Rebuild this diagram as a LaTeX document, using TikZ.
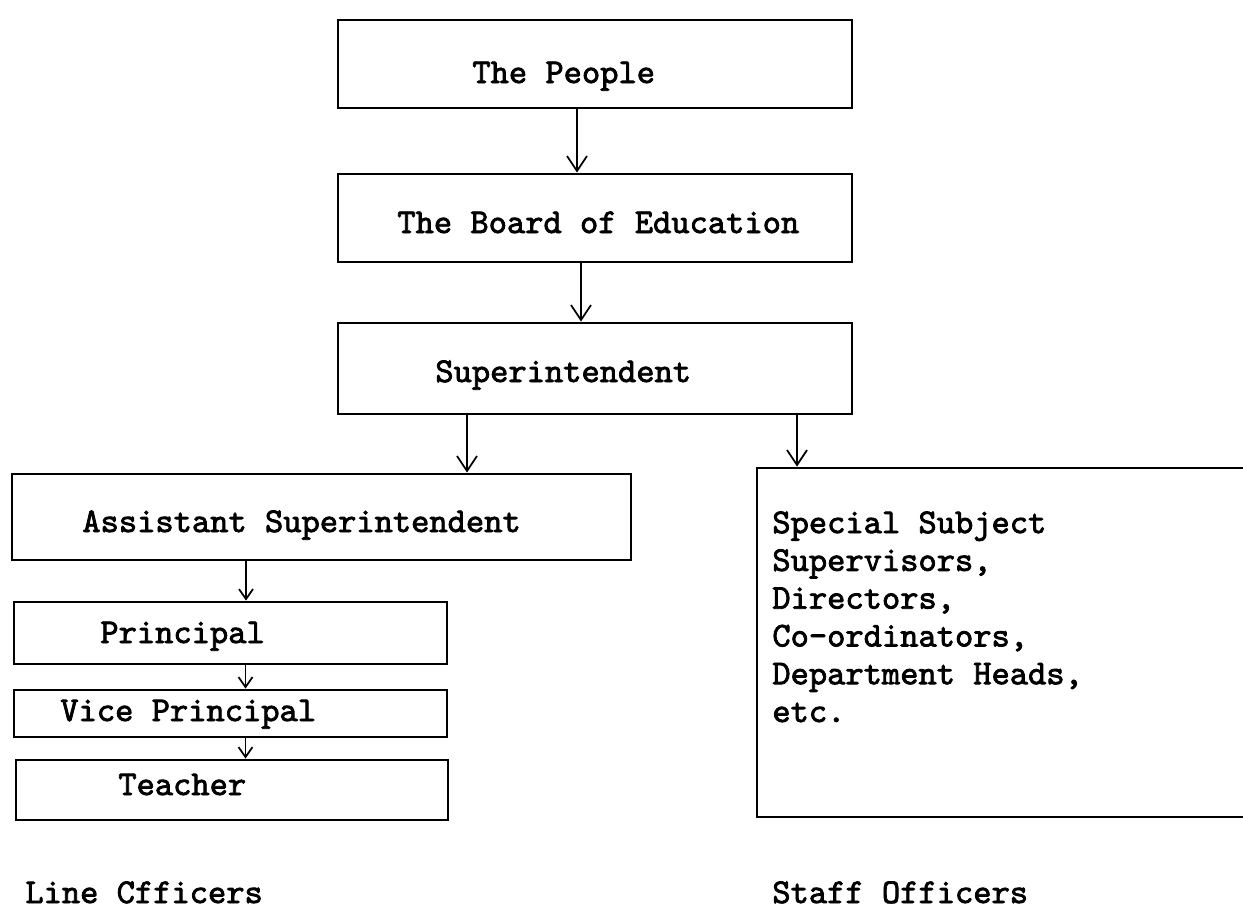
\documentclass[tikz,border=0pt]{standalone}
\usepackage{fontspec}
\usetikzlibrary{arrows.meta}
\newfontfamily\typewriter{lmmono10-regular.otf}[FakeBold=2.2]

\begin{document}
\begin{tikzpicture}[
  x=0.2mm, y=-0.2mm,
  font=\fontsize{19.8}{21.5}\selectfont\typewriter,
  box/.style={draw=black, line width=1.6pt, inner sep=0pt},
  txt/.style={anchor=base west, inner sep=0pt, align=left},
  arr/.style={-{Straight Barb[length=3mm, width=4mm, line width=1pt]}, line width=0.8pt},
  arrsm/.style={-{Straight Barb[length=2mm, width=2.8mm, line width=1pt]}, line width=0.8pt}
]
\useasboundingbox (0,0) rectangle (1243,910);

% ---- upper chain
\node[box, minimum width=102.8mm, minimum height=17.6mm] (people) at (595,64)  {};
\node[box, minimum width=102.8mm, minimum height=17.6mm] (board)  at (595,218) {};
\node[box, minimum width=102.8mm, minimum height=18.2mm] (supt)   at (595,368.5) {};
\node[txt] (peopleT) at (472,83)  {The People};
\node[txt] (boardT)  at (397,233) {The Board of Education};
\node[txt] (suptT)   at (435,382) {Superintendent};

% ---- line side
\node[box, minimum width=123.8mm, minimum height=17.2mm] (asst)  at (321.5,517) {};
\node[box, minimum width=86.6mm,  minimum height=12.4mm] (princ) at (230.5,633) {};
\node[box, minimum width=86.6mm,  minimum height=9.4mm]  (vice)  at (230.5,713.5) {};
\node[box, minimum width=86.4mm,  minimum height=12mm]   (teach) at (232,790) {};
\node[txt] (asstT)  at (82,532)  {Assistant Superintendent};
\node[txt] (princT) at (100,643) {Principal};
\node[txt] (viceT)  at (60,721)  {Vice Principal};
\node[txt] (teachT) at (118,795) {Teacher};

% ---- staff side (runs off the right edge)
\node[box, minimum width=101.6mm, minimum height=69.8mm] (staff) at (1011,642.5) {};
% base of a multi-line node sits on its last line
\node[txt] (staffT) at (772,722)
  {Special Subject\\Supervisors,\\Directors,\\Co-ordinators,\\Department Heads,\\etc.};

% ---- captions
\node[txt] (lineCap)  at (25,903)  {Line Cfficers};
\node[txt] (staffCap) at (772,903) {Staff Officers};

% ---- arrows
\draw[arr] ([xshift=-3.6mm]people.south) -- ([xshift=-3.6mm]people.south |- board.north);
\draw[arr] ([xshift=-2.8mm]board.south) -- ([xshift=-2.8mm]board.south |- supt.north);
\draw[arr] ([xshift=-25.6mm]supt.south) -- ([xshift=-25.6mm]supt.south |- asst.north);
\draw[arr] ([xshift=40.4mm]supt.south) -- ([xshift=40.4mm]supt.south |- staff.north);
\draw[arrsm] ([xshift=-15.1mm]asst.south) -- ([xshift=-15.1mm]asst.south |- princ.north);
\draw[arrsm] ([xshift=3mm]princ.south) -- ([xshift=3mm]princ.south |- vice.north);
\draw[arrsm] ([xshift=3mm]vice.south) -- ([xshift=3mm]vice.south |- teach.north);
\end{tikzpicture}
\end{document}
